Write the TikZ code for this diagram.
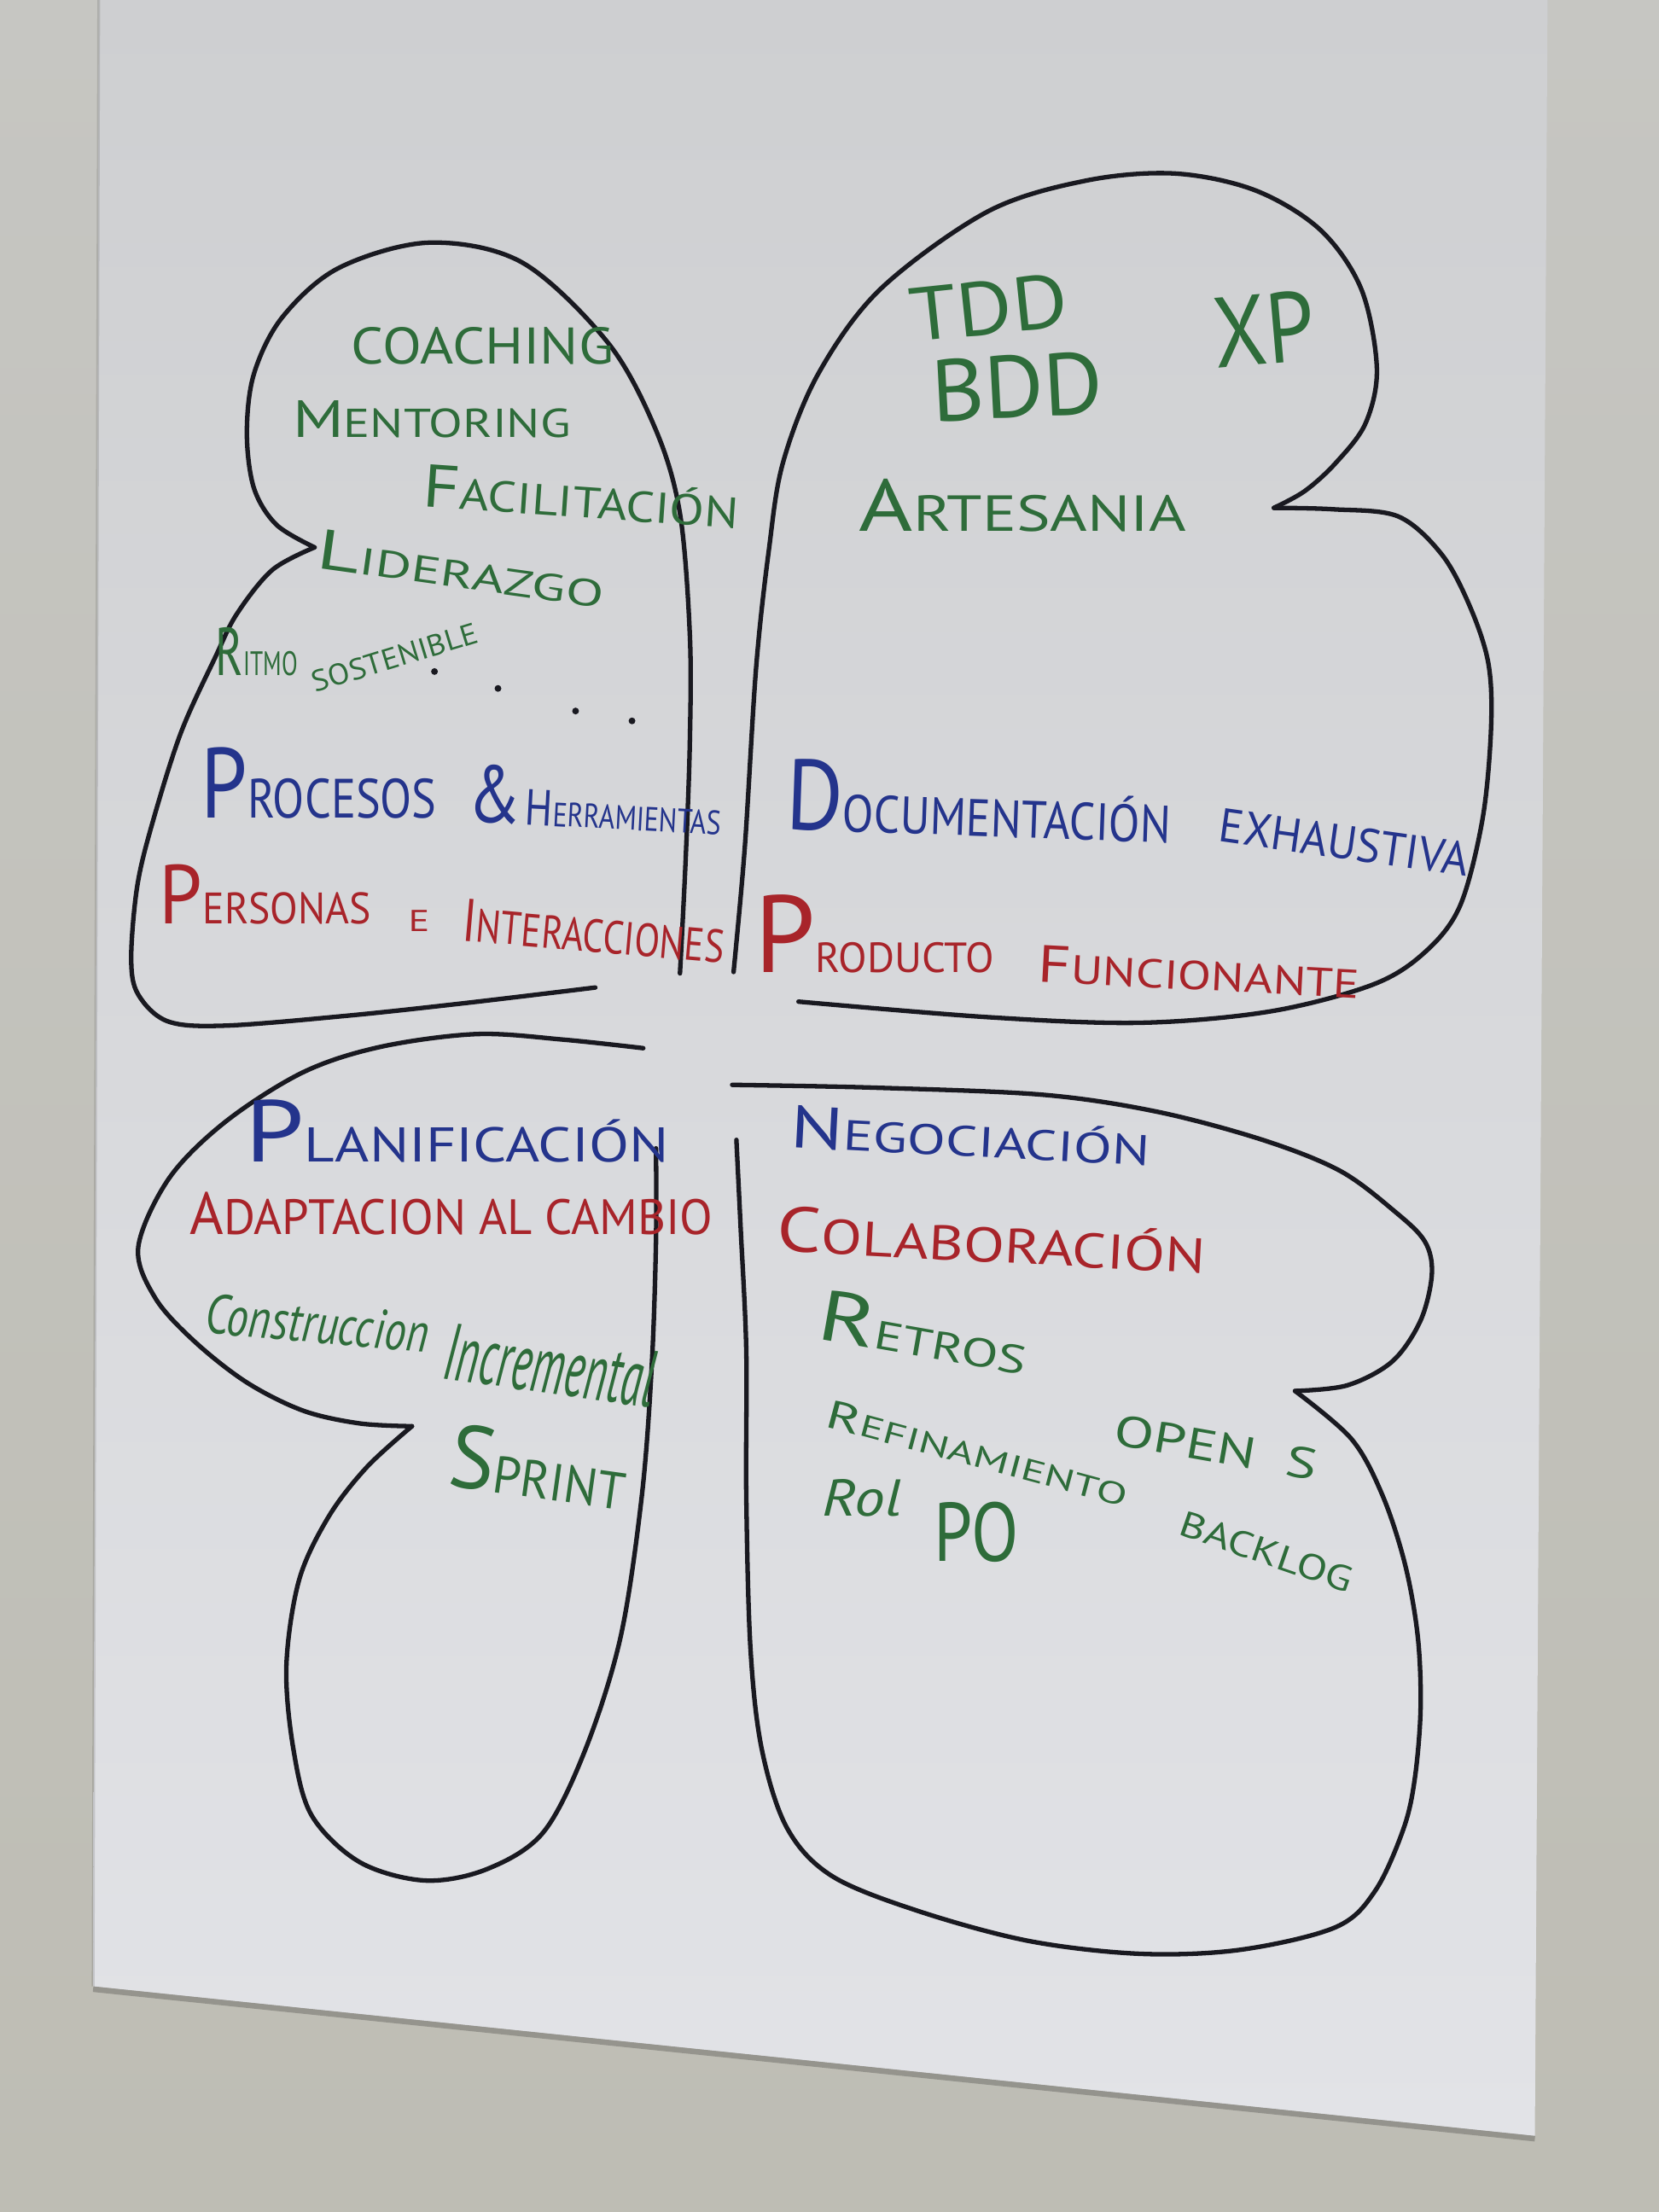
\documentclass[tikz,border=0pt]{standalone}
\usepackage{fontspec}
\usepackage{graphicx}
\setmainfont{PT Sans}
\newlength\pxu
\setlength\pxu{0.0165cm}
% fit a text into a box of given width and height (in drawing units)
\newcommand{\hw}[3]{\resizebox{#1\pxu}{#2\pxu}{#3}}
% enlarged initial letter, as in marker small capitals
\newcommand{\Ltr}[2][1.5]{\scalebox{#1}{#2}}
\definecolor{wall}{RGB}{190,189,180}
\definecolor{walltop}{RGB}{198,198,194}
\definecolor{papertop}{RGB}{206,207,209}
\definecolor{papermid}{RGB}{241,241,244}
\definecolor{paperbot}{RGB}{226,227,231}
\definecolor{inkblack}{RGB}{25,25,32}
\definecolor{inkgreen}{RGB}{46,108,58}
\definecolor{inkblue}{RGB}{36,52,140}
\definecolor{inkred}{RGB}{168,36,42}
\tikzset{
  outline/.style={draw=inkblack, line width=3.2\pxu, line cap=round, line join=round},
  lobe/.style={smooth, tension=0.55},
  word/.style={inner sep=0pt, outer sep=0pt},
  green/.style={word, text=inkgreen},
  blue/.style={word, text=inkblue},
  red/.style={word, text=inkred},
}
\begin{document}
\begin{tikzpicture}[x=0.0165cm, y=-0.0165cm]
\useasboundingbox (0,0) rectangle (1176,1568);
% wall and flip-chart sheet
\shade[top color=walltop, bottom color=wall] (0,0) rectangle (1176,1568);
\shade[top color=papertop, middle color=papermid, bottom color=paperbot]
  (70,0) -- (1097,0) -- (1088,1514) -- (66,1408) -- cycle;
\draw[line width=4\pxu, color=black, opacity=0.22] (66,1410) -- (1088,1516);
\draw[line width=2\pxu, color=black, opacity=0.12] (70,0) -- (66,1408);

% ---- top-left leaf
\draw[outline] plot[lobe] coordinates {(422,700) (330,711) (246,720) (160,727) (119,724) (98,705) (93,680) (97,630) (107,587) (128,520) (153,465) (168,435) (193,404) (223,388)};
\draw[outline] plot[lobe] coordinates {(223,388) (196,372) (180,346) (175,307) (180,265) (200,225) (240,190) (304,172) (370,186) (431,243) (465,305) (482,364) (489,450) (489,526) (486,610) (482,690)};

% ---- top-right leaf
\draw[outline] plot[lobe] coordinates {(520,689) (528,600) (536,473) (545,390) (555,328) (580,265) (624,205) (700,150) (770,128) (833,123) (890,135) (936,163) (965,205) (976,261) (968,300) (947,328) (925,348) (903,360)};
\draw[outline] plot[lobe] coordinates {(903,360) (945,361) (991,366) (1022,393) (1042,430) (1055,470) (1057,515) (1051,580) (1035,642) (1010,675) (973,698) (900,717) (808,725) (700,721) (566,710)};

% ---- bottom-left leaf
\draw[outline] plot[lobe] coordinates {(456,743) (400,737) (338,733) (270,742) (215,760) (160,795) (120,835) (98,884) (110,920) (138,951) (175,980) (215,1000) (255,1009) (292,1011)};
\draw[outline] plot[lobe] coordinates {(292,1011) (260,1040) (233,1075) (212,1120) (203,1181) (208,1240) (221,1287) (255,1320) (301,1333) (345,1325) (385,1299) (415,1240) (440,1160) (455,1060) (462,968) (465,880) (465,814)};

% ---- bottom-right leaf
\draw[outline] plot[lobe] coordinates {(519,769) (620,771) (739,776) (820,788) (895,808) (950,830) (989,859) (1010,880) (1015,903) (1007,936) (987,965) (955,982) (918,986)};
\draw[outline] plot[lobe] coordinates {(918,986) (958,1020) (980,1060) (996,1109) (1005,1160) (1007,1211) (1003,1260) (995,1296) (975,1340) (947,1366) (880,1382) (809,1385) (730,1376) (652,1355) (590,1330) (558,1296) (540,1240) (532,1169) (529,1060) (529,957) (525,870) (522,808)};

% ---- top-left leaf texts
\node[green] (coaching) at (342,245) {\hw{186}{26}{COACHING}};
\node[green] (mentoring) at (306,297) {\hw{197}{26}{\Ltr[1.3]{M}ENTORING}};
\node[green, rotate=-4] (facilitacion) at (412,352) {\hw{224}{30}{\Ltr[1.4]{F}ACILITACI\smash{Ó}N}};
\node[green, rotate=-8] (liderazgo) at (327,403) {\hw{205}{28}{\Ltr[1.5]{L}IDERAZGO}};
\node[green] (ritmo) at (182,462) {\hw{58}{34}{\Ltr[2]{R}ITMO}};
\node[green, rotate=17] (sostenible) at (280,466) {\hw{122}{15}{SOSTENIBLE}};
\foreach \px/\py [count=\k] in {308/476, 353/488, 408/504, 448/511}
  \fill[inkblack] (\px,\py) circle (2.4);
\node[blue] (procesos) at (226,555) {\hw{167}{50}{\Ltr[1.8]{P}ROCESOS}};
\node[blue, rotate=-3] (herramientas) at (422,567) {\hw{180}{41}{\Ltr[2.4]{\&}\,\Ltr[1.5]{H}ERRAMIENTAS}};
\node[red] (personas) at (188,634) {\hw{150}{42}{\Ltr[1.9]{P}ERSONAS}};
\node[red] (conj) at (297,653) {\hw{15}{15}{E}};
\node[red, rotate=-5] (interacciones) at (421,660) {\hw{186}{30}{\Ltr[1.3]{I}NTERACCIONES}};

% ---- top-right leaf texts
\node[green, rotate=6] (tdd) at (701,218) {\hw{112}{38}{TDD}};
\node[green, rotate=3] (bdd) at (721,274) {\hw{122}{44}{BDD}};
\node[green, rotate=5] (xp) at (896,233) {\hw{72}{50}{XP}};
\node[green] (artesania) at (725,358) {\hw{232}{37}{\Ltr[1.45]{A}RTESANIA}};
\node[blue, rotate=-2] (documentacion) at (694,568) {\hw{273}{50}{\Ltr[1.9]{D}OCUMENTACI\smash{Ó}N}};
\node[blue, rotate=-8] (exhaustiva) at (953,597) {\hw{178}{24}{EXHAUSTIVA}};
\node[red] (producto) at (620,662) {\hw{170}{55}{\Ltr[2.6]{P}RODUCTO}};
\node[red, rotate=-3] (funcionante) at (850,689) {\hw{228}{26}{\Ltr[1.3]{F}UNCIONANTE}};

% ---- bottom-left leaf texts
\node[blue] (planificacion) at (324,802) {\hw{300}{44}{\Ltr[1.8]{P}LANIFICACI\smash{Ó}N}};
\node[red] (adaptacion) at (320,860) {\hw{371}{30}{\Ltr[1.2]{A}DAPTACION AL CAMBIO}};
\node[green, rotate=-5] (construccion) at (225,938) {\hw{159}{28}{\itshape Construccion}};
\node[green, rotate=-8] (incremental) at (390,968) {\hw{150}{40}{\itshape Incremental}};
\node[green, rotate=-8] (sprint) at (382,1040) {\hw{126}{45}{\Ltr[1.7]{S}PRINT}};

% ---- bottom-right leaf texts
\node[blue, rotate=-3] (negociacion) at (688,805) {\hw{255}{30}{\Ltr[1.4]{N}EGOCIACI\smash{Ó}N}};
\node[red, rotate=-3] (colaboracion) at (703,879) {\hw{304}{32}{\Ltr[1.3]{C}OLABORACI\smash{Ó}N}};
\node[green, rotate=-10] (retros) at (655,944) {\hw{150}{36}{\Ltr[1.8]{R}ETROS}};
\node[green, rotate=-15] (refinamiento) at (693,1030) {\hw{220}{20}{\Ltr[1.3]{R}EFINAMIENTO}};
\node[green, rotate=-19] (backlog) at (898,1100) {\hw{128}{18}{BACKLOG}};
\node[green, rotate=-10] (opens) at (862,1026) {\hw{145}{22}{OPEN\ \ S}};
\node[green] (rol) at (611,1062) {\hw{56}{26}{\itshape Rol}};
\node[green] (po) at (692,1086) {\hw{60}{42}{PO}};
\end{tikzpicture}
\end{document}
